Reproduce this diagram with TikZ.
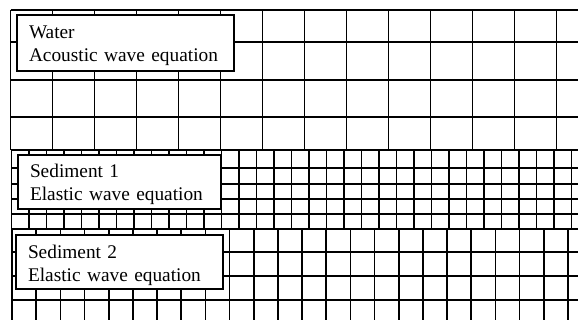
\documentclass[tikz,border=0pt]{standalone}
\usepackage{fontspec}
\setmainfont{Liberation Serif}

\begin{document}
\begin{tikzpicture}[
        x=0.75pt, y=-0.75pt,
        gridline/.style={draw=black, line width=1.25pt},
        layerlabel/.style={rectangle, draw=black, line width=1.5pt, fill=white, anchor=north west, align=left, inner xsep=9pt, inner ysep=0pt, text height=17.25pt, text depth=23.25pt, font=\fontsize{14.5}{17.25}\selectfont}
    ]
        \useasboundingbox (0,0) rectangle (578,320);
        % water: coarse mesh
        \foreach \y in {10,42,80,117,150}
            \draw[gridline] (10.5,\y) -- (578,\y);
        \foreach \k in {0,...,13}
            \draw[gridline] ({10.5+42*\k},10) -- ({10.5+42*\k},150);
        % sediment 1: fine mesh
        \foreach \y in {168,184,199,214,229}
            \draw[gridline] (11.5,\y) -- (578,\y);
        \foreach \k in {0,...,32}
            \draw[gridline] ({11.5+17.5*\k},150) -- ({11.5+17.5*\k},229);
        % sediment 2: medium mesh
        \foreach \y in {252,276,300}
            \draw[gridline] (12,\y) -- (578,\y);
        \foreach \k in {0,...,23}
            \draw[gridline] ({12+24.17*\k},229) -- ({12+24.17*\k},320);
        % layer labels
        \node[layerlabel, text width=144.75pt, text height=18pt, text depth=24pt] (water) at (16,14) {Water\\Acoustic wave equation};
        \node[layerlabel, text width=134.25pt] (sedone) at (17,154) {Sediment 1\\Elastic wave equation};
        \node[layerlabel, text width=137.25pt] (sedtwo) at (15,234) {Sediment 2\\Elastic wave equation};
    \end{tikzpicture}
\end{document}
